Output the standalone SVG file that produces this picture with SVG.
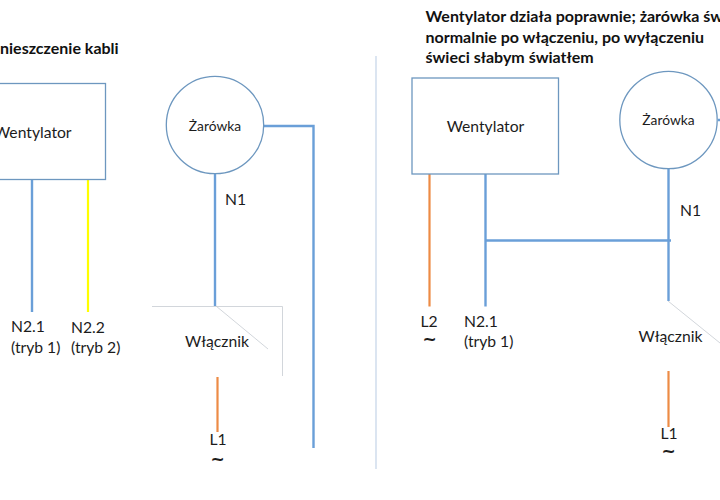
<svg xmlns="http://www.w3.org/2000/svg" width="720" height="500" viewBox="0 0 720 500">
<style>
text{font-family:"Lato","Open Sans","Liberation Sans",sans-serif;fill:#1c1c1c;font-size:15.700px}
.h{font-weight:700;font-size:16px;fill:#111}
.s{font-size:13.800px}
.t{font-family:"DejaVu Sans",sans-serif;font-weight:700;font-size:17px}
.m{text-anchor:middle}
.box{fill:#fff;stroke:#6d97bf;stroke-width:1.3}
.n{fill:none;stroke:#6a9fd8;stroke-width:2.4}
.y{fill:none;stroke:#ffff00;stroke-width:2.2}
.o{fill:none;stroke:#ed8b45;stroke-width:2.2}
.thin{fill:none;stroke:#c6ccd2;stroke-width:.8}
.div{fill:none;stroke:#d3dfee;stroke-width:1.6}
</style>
<rect width="720" height="500" fill="#fff"/>
<g id="connectors">
<path class="div" d="M376 56V469"/>
<path class="n" d="M32 179V312"/>
<path class="y" d="M88 179V312"/>
<path class="n" d="M215 174V306"/>
<path class="n" d="M264 126H313.500V448"/>
<path class="thin" d="M152 306.500H282.500V376"/>
<path class="thin" d="M216 306L268 349"/>
<path class="o" d="M217.500 377V432"/>
<path class="o" d="M429.500 174V306.500"/>
<path class="n" d="M485.500 174V306.500"/>
<path class="n" d="M485 240.500H671"/>
<path class="n" d="M668.500 169V301"/>
<path class="thin" d="M668 301L720 343"/>
<path class="o" d="M668.500 371V427"/>
<path class="n" d="M718 120H722"/>
</g>
<g id="title-left"><text class="h" x="0" y="54">nieszczenie kabli</text></g>
<g id="title-right">
<text class="h" x="425.500" y="22">Wentylator działa poprawnie; żarówka św</text>
<text class="h" x="425.500" y="43">normalnie po włączeniu, po wyłączeniu</text>
<text class="h" x="425.500" y="63">świeci słabym światłem</text>
</g>
<g id="fan-left"><rect class="box" x="-40" y="83.500" width="145.500" height="96"/><text x="-6" y="138">Wentylator</text></g>
<g id="bulb-left"><circle class="box" cx="215" cy="125" r="48.700"/><text class="s m" x="215" y="131">Żarówka</text></g>
<g id="fan-right"><rect class="box" x="412" y="78" width="146.500" height="96"/><text class="m" x="485.500" y="132">Wentylator</text></g>
<g id="bulb-right"><circle class="box" cx="668.500" cy="120" r="48.700"/><text class="s m" x="668.500" y="125">Żarówka</text></g>
<g id="labels">
<text x="225" y="205">N1</text>
<text x="11" y="332">N2.1</text>
<text x="11" y="353">(tryb 1)</text>
<text x="71" y="333">N2.2</text>
<text x="71" y="353">(tryb 2)</text>
<text class="m" x="217" y="347">Włącznik</text>
<text class="m" x="218" y="445">L1</text>
<text class="t m" x="217.500" y="465">~</text>
<text x="680" y="216">N1</text>
<text class="m" x="429" y="327">L2</text>
<text class="t m" x="429.500" y="345">~</text>
<text x="464" y="327">N2.1</text>
<text x="464" y="347">(tryb 1)</text>
<text class="m" x="670.500" y="342">Włącznik</text>
<text class="m" x="669" y="439">L1</text>
<text class="t m" x="668.500" y="457">~</text>
</g>
</svg>
